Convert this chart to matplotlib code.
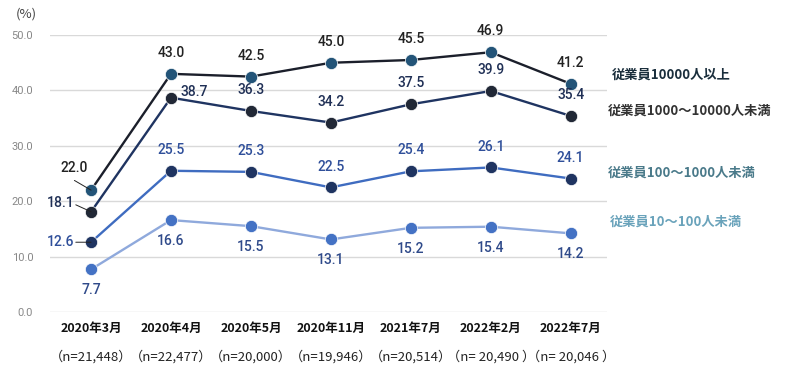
import matplotlib
matplotlib.use("Agg")
import matplotlib.pyplot as plt
from matplotlib.transforms import blended_transform_factory

plt.rcParams['font.family'] = ['Noto Sans CJK JP', 'DejaVu Sans']

categories = ["2020年3月", "2020年4月", "2020年5月", "2020年11月", "2021年7月", "2022年2月", "2022年7月"]
n_labels = ["（n=21,448）", "（n=22,477）", "（n=20,000）", "（n=19,946）", "（n=20,514）", "（n= 20,490 ）", "（n= 20,046 ）"]
series_names = ["従業員10000人以上", "従業員1000～10000人未満", "従業員100～1000人未満", "従業員10～100人未満"]
s_10000 = [22.0, 43.0, 42.5, 45.0, 45.5, 46.9, 41.2]
s_1000 = [18.1, 38.7, 36.3, 34.2, 37.5, 39.9, 35.4]
s_100 = [12.6, 25.5, 25.3, 22.5, 25.4, 26.1, 24.1]
s_10 = [7.7, 16.6, 15.5, 13.1, 15.2, 15.4, 14.2]
yticks = [0, 10, 20, 30, 40, 50]

fig = plt.figure(figsize=(7.92, 3.73), dpi=100)
ax = fig.add_axes([0.063, 0.1635, 0.703, 0.7425])
x = list(range(len(categories)))

styles = [
    dict(data=s_10000, line="#1b1f2b", marker="#235478", label="#222222", legend="#1a2e3c"),
    dict(data=s_1000, line="#1f3461", marker="#212836", label="#1f2f55", legend="#333333"),
    dict(data=s_100, line="#3f6cc0", marker="#1f3461", label="#2f4f9a", legend="#4a7a8a"),
    dict(data=s_10, line="#8fa9dc", marker="#4472c4", label="#2f4a8a", legend="#6aa3bb"),
]

for st in styles:
    ax.plot(x, st["data"], color=st["line"], lw=1.7, zorder=2, clip_on=False)
    ax.plot(x, st["data"], 'o', ms=8.8, color=st["marker"], mec="white", mew=0.5, zorder=3, clip_on=False)

def lab(xi, v, dx, dy, color):
    ax.annotate(f"{v:.1f}", (xi, v), xytext=(dx, dy), textcoords="offset points",
                ha="center", va="center", fontsize=10, color=color,
                family=["Roboto", "DejaVu Sans"], fontweight="medium")

for i, v in enumerate(s_10000):
    if i == 0:
        lab(i, v, -12, 16, styles[0]["label"])
    else:
        lab(i, v, 0, 15, styles[0]["label"])
for i, v in enumerate(s_1000):
    if i == 0:
        lab(i, v, -22, 6, styles[1]["label"])
    elif i == 1:
        lab(i, v, 17, 4, styles[1]["label"])
    else:
        lab(i, v, 0, 15, styles[1]["label"])
for i, v in enumerate(s_100):
    if i == 0:
        lab(i, v, -22, 0, styles[2]["label"])
    else:
        lab(i, v, 0, 15, styles[2]["label"])
for i, v in enumerate(s_10):
    lab(i, v, 0, -15, styles[3]["label"])

# leader lines for first category labels
ax.annotate("", xy=(0, s_10000[0]), xytext=(-12, 7), textcoords="offset points",
            arrowprops=dict(arrowstyle="-", color="#222222", lw=0.7, shrinkA=0, shrinkB=0))
ax.annotate("", xy=(0, s_1000[0]), xytext=(-11, 5), textcoords="offset points",
            arrowprops=dict(arrowstyle="-", color="#222222", lw=0.7, shrinkA=0, shrinkB=0))
ax.annotate("", xy=(0, s_100[0]), xytext=(-11, 0), textcoords="offset points",
            arrowprops=dict(arrowstyle="-", color="#222222", lw=0.7, shrinkA=0, shrinkB=0))

ax.set_xlim(-0.515, 6.45)
ax.set_ylim(0, 50)
ax.set_yticks(yticks)
ax.set_yticklabels([f"{t:.1f}" for t in yticks], fontsize=8, color="#888888",
                   family=["Roboto", "DejaVu Sans"])
ax.set_xticks([])
ax.tick_params(axis="y", length=0, pad=12)
for sp in ax.spines.values():
    sp.set_visible(False)
ax.grid(axis="y", color="#d9d9d9", lw=1)
ax.set_axisbelow(True)

tr = blended_transform_factory(ax.transData, ax.transAxes)
for i, (c, n) in enumerate(zip(categories, n_labels)):
    ax.annotate(c, (i, 0), xycoords=tr, xytext=(0, -12), textcoords="offset points",
                ha="center", va="center", fontsize=9, fontweight="bold", color="#111111")
    ax.annotate(n, (i, 0), xycoords=tr, xytext=(0, -32), textcoords="offset points",
                ha="center", va="center", fontsize=9.5, color="#222222")

fig.text(16 / 792, 1 - 14 / 373, "(%)", fontsize=9.5, color="#444444", ha="left", va="center")

legend_y = [75, 111, 173, 222]
legend_x = [612, 608, 608, 610]
for name, st, yy, xx in zip(series_names, styles, legend_y, legend_x):
    fig.text(xx / 792, 1 - yy / 373, name, fontsize=9.5, fontweight="bold",
             color=st["legend"], ha="left", va="center")

fig.savefig("out.png", dpi=100)
